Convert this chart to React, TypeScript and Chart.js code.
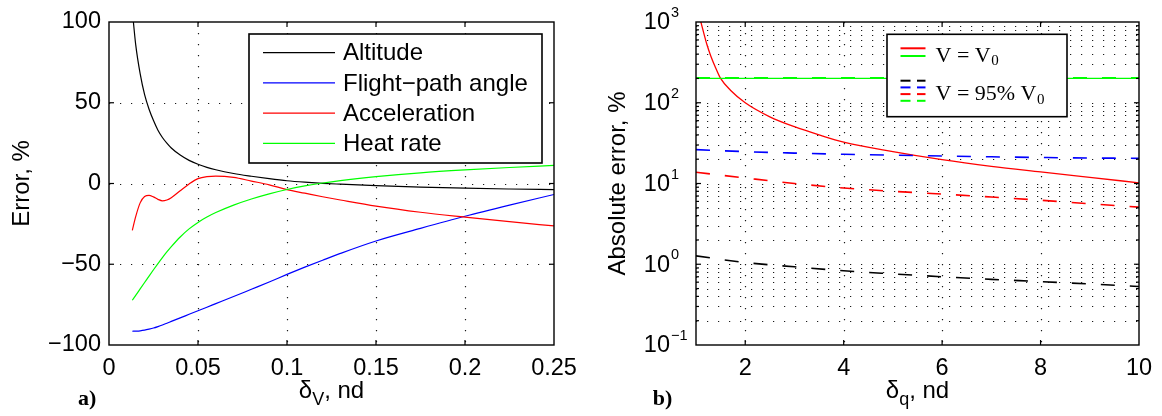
import React, { useEffect, useRef } from "react";
import { Chart, registerables } from "chart.js";

Chart.register(...registerables);

const SANS = '"Liberation Sans", Arial, Helvetica, sans-serif';
const SERIF = '"Liberation Serif", "Times New Roman", serif';

// ---------------- Panel a) data ----------------
const deltaV = [0.0131, 0.015, 0.0175, 0.02, 0.0225, 0.025, 0.0275, 0.03, 0.0325, 0.035, 0.04, 0.045, 0.05, 0.055, 0.06, 0.07, 0.08, 0.09, 0.1, 0.11, 0.12, 0.13, 0.15, 0.175, 0.2, 0.225, 0.25];
const altitudeErr = [107, 86, 68, 55, 46, 39, 33, 28.5, 25, 22, 17.6, 14.3, 11.9, 10.0, 8.5, 6.2, 4.5, 3.0, 1.7, 0.8, 0.1, -0.4, -1.3, -2.2, -2.9, -3.4, -3.8];
const flightPathErr = [-91.5, -91.4, -91.2, -90.8, -90.2, -89.5, -88.6, -87.6, -86.5, -85.4, -83.2, -81, -78.8, -76.6, -74.4, -70, -65.5, -61, -56.3, -51.8, -47.5, -43.3, -35.6, -27.8, -20.3, -13.4, -6.8];
const accelErr = [-29, -20.5, -12, -8, -7.3, -8.3, -9.8, -10.7, -10.2, -8.8, -4.5, -0.3, 3.0, 4.3, 4.6, 3.8, 1.5, -0.8, -3.8, -6, -8.2, -10.2, -14, -17.8, -20.8, -23.6, -26.3];
const heatRateErr = [-72.3, -69.3, -65.3, -61.3, -57.3, -53.4, -49.6, -45.9, -42.4, -39.1, -33.1, -28.1, -24.1, -20.8, -18.0, -13.4, -9.6, -6.4, -3.7, -1.5, 0.3, 1.8, 4.2, 6.6, 8.4, 9.9, 11.2];

const seriesNamesA = ["Altitude", "Flight\u2212path angle", "Acceleration", "Heat rate"];
const xTicksA = [0, 0.05, 0.1, 0.15, 0.2, 0.25];
const xTickLabelsA = ["0", "0.05", "0.1", "0.15", "0.2", "0.25"];
const yTicksA = [-100, -50, 0, 50, 100];
const yTickLabelsA = ["\u2212100", "\u221250", "0", "50", "100"];

// ---------------- Panel b) data ----------------
const deltaQSolid = [1.09, 1.15, 1.22, 1.3, 1.4, 1.5, 1.7, 2, 2.5, 3, 3.5, 4, 5, 6, 7, 8, 9, 10];
const accelNominal = [1050, 760, 530, 380, 270, 200, 143, 100, 67, 50.5, 40, 32.5, 24.8, 19.7, 16.3, 13.9, 11.9, 10.2];
const deltaQ = [1, 2, 3, 4, 5, 6, 7, 8, 9, 10];
const heatNominal = [200, 200, 200, 200, 200, 200, 200, 200, 200, 200];
const altitude95 = [1.27, 1.05, 0.93, 0.83, 0.76, 0.7, 0.65, 0.61, 0.57, 0.53];
const flightPath95 = [26.3, 24.8, 23.8, 23.0, 22.4, 21.9, 21.4, 21.0, 20.7, 20.5];
const accel95 = [13.8, 11.7, 10.0, 8.8, 8.0, 7.4, 6.8, 6.2, 5.6, 5.1];
const heat95 = [203, 203, 203, 203, 203, 203, 203, 203, 203, 203];

const xTicksB = [2, 4, 6, 8, 10];
const xTickLabelsB = ["2", "4", "6", "8", "10"];
const yMajorB = [0.1, 1, 10, 100, 1000];
const yExpLabelsB = ["\u22121", "0", "1", "2", "3"];

const BLACK = "#000000";
const BLUE = "#0000ff";
const RED = "#ff0000";
const GREEN = "#00ff00";

const pts = (xs: number[], ys: number[]) => xs.map((x, i) => ({ x, y: ys[i] }));

function line(ctx: CanvasRenderingContext2D, x1: number, y1: number, x2: number, y2: number) {
  ctx.beginPath();
  ctx.moveTo(x1, y1);
  ctx.lineTo(x2, y2);
  ctx.stroke();
}

function drawSubText(
  ctx: CanvasRenderingContext2D,
  cx: number,
  baseline: number,
  main: string,
  sub: string,
  rest: string,
  size: number,
  subSize: number,
  drop: number,
) {
  ctx.font = `${size}px ${SANS}`;
  const w1 = ctx.measureText(main).width;
  const w3 = ctx.measureText(rest).width;
  ctx.font = `${subSize}px ${SANS}`;
  const w2 = ctx.measureText(sub).width;
  let x = cx - (w1 + w2 + w3) / 2;
  ctx.textAlign = "left";
  ctx.textBaseline = "alphabetic";
  ctx.fillStyle = "#000";
  ctx.font = `${size}px ${SANS}`;
  ctx.fillText(main, x, baseline);
  x += w1;
  ctx.font = `${subSize}px ${SANS}`;
  ctx.fillText(sub, x, baseline + drop);
  x += w2;
  ctx.font = `${size}px ${SANS}`;
  ctx.fillText(rest, x, baseline);
}

function dottedGrid(ctx: CanvasRenderingContext2D) {
  ctx.strokeStyle = "#1a1a1a";
  ctx.lineWidth = 1.2;
  ctx.setLineDash([1.2, 9.8]);
}

function drawBoxAndTicks(
  ctx: CanvasRenderingContext2D,
  ca: any,
  xs: number[],
  ys: number[],
  yMinor: number[],
) {
  ctx.save();
  ctx.setLineDash([]);
  ctx.strokeStyle = "#000";
  ctx.lineWidth = 1.2;
  for (const px of xs) {
    line(ctx, px, ca.bottom, px, ca.bottom - 5);
    line(ctx, px, ca.top, px, ca.top + 5);
  }
  for (const py of ys) {
    line(ctx, ca.left, py, ca.left + 5, py);
    line(ctx, ca.right, py, ca.right - 5, py);
  }
  for (const py of yMinor) {
    line(ctx, ca.left, py, ca.left + 3, py);
    line(ctx, ca.right, py, ca.right - 3, py);
  }
  ctx.lineWidth = 1.4;
  ctx.strokeRect(ca.left, ca.top, ca.right - ca.left, ca.bottom - ca.top);
  ctx.restore();
}

const panelAPlugin = {
  id: "panelA",
  beforeDatasetsDraw(chart: any) {
    const { ctx, chartArea: ca, scales } = chart;
    const { x, y } = scales;
    ctx.save();
    dottedGrid(ctx);
    for (const v of xTicksA.slice(1, -1)) {
      const px = Math.round(x.getPixelForValue(v)) + 0.5;
      line(ctx, px, ca.top, px, ca.bottom);
    }
    for (const v of yTicksA.slice(1, -1)) {
      const py = Math.round(y.getPixelForValue(v)) + 0.5;
      line(ctx, ca.left, py, ca.right, py);
    }
    ctx.restore();
  },
  afterDatasetsDraw(chart: any) {
    const { ctx, chartArea: ca, scales } = chart;
    const { x, y } = scales;
    drawBoxAndTicks(
      ctx,
      ca,
      xTicksA.slice(1, -1).map((v) => x.getPixelForValue(v)),
      yTicksA.slice(1, -1).map((v) => y.getPixelForValue(v)),
      [],
    );
    // legend
    const lx = ca.right - 305;
    const ly = ca.top + 12;
    const lw = 293;
    const lh = 129;
    ctx.save();
    ctx.fillStyle = "#fff";
    ctx.fillRect(lx, ly, lw, lh);
    ctx.strokeStyle = "#000";
    ctx.lineWidth = 1.6;
    ctx.strokeRect(lx, ly, lw, lh);
    const colors = [BLACK, BLUE, RED, GREEN];
    ctx.font = `24px ${SANS}`;
    ctx.textAlign = "left";
    ctx.textBaseline = "middle";
    seriesNamesA.forEach((name, i) => {
      const ry = ly + 18.7 + i * 30.2;
      ctx.strokeStyle = colors[i];
      ctx.lineWidth = 1.3;
      line(ctx, lx + 14, ry, lx + 86, ry);
      ctx.fillStyle = "#000";
      ctx.fillText(name, lx + 94, ry + 1);
    });
    ctx.restore();
  },
  afterDraw(chart: any) {
    const { ctx, chartArea: ca } = chart;
    ctx.save();
    ctx.fillStyle = "#000";
    ctx.font = `24px ${SANS}`;
    ctx.textAlign = "center";
    ctx.textBaseline = "middle";
    ctx.translate(22, (ca.top + ca.bottom) / 2);
    ctx.rotate(-Math.PI / 2);
    ctx.fillText("Error, %", 0, 0);
    ctx.restore();
    ctx.save();
    drawSubText(ctx, (ca.left + ca.right) / 2, 398, "\u03b4", "V", ", nd", 24, 18, 7);
    ctx.font = `bold 22px ${SERIF}`;
    ctx.textAlign = "left";
    ctx.textBaseline = "alphabetic";
    ctx.fillText("a)", 78, 405);
    ctx.restore();
  },
};

const panelBPlugin = {
  id: "panelB",
  beforeDatasetsDraw(chart: any) {
    const { ctx, chartArea: ca, scales } = chart;
    const { x, y } = scales;
    ctx.save();
    dottedGrid(ctx);
    for (const v of xTicksB.slice(0, -1)) {
      const px = Math.round(x.getPixelForValue(v)) + 0.5;
      line(ctx, px, ca.top, px, ca.bottom);
    }
    for (let d = 0; d < yMajorB.length - 1; d++) {
      for (let m = 1; m <= 9; m++) {
        if (d === 0 && m === 1) continue;
        const py = Math.round(y.getPixelForValue(yMajorB[d] * m)) + 0.5;
        line(ctx, ca.left, py, ca.right, py);
      }
    }
    ctx.restore();
  },
  afterDatasetsDraw(chart: any) {
    const { ctx, chartArea: ca, scales } = chart;
    const { x, y } = scales;
    const minors: number[] = [];
    for (let d = 0; d < yMajorB.length - 1; d++) {
      for (let m = 2; m <= 9; m++) minors.push(y.getPixelForValue(yMajorB[d] * m));
    }
    drawBoxAndTicks(
      ctx,
      ca,
      xTicksB.slice(0, -1).map((v) => x.getPixelForValue(v)),
      yMajorB.slice(1, -1).map((v) => y.getPixelForValue(v)),
      minors,
    );
    // legend
    const lx = ca.left + 191;
    const ly = ca.top + 12.3;
    const lw = 180;
    const lh = 82.4;
    ctx.save();
    ctx.fillStyle = "#fff";
    ctx.fillRect(lx, ly, lw, lh);
    ctx.strokeStyle = "#000";
    ctx.lineWidth = 1.6;
    ctx.strokeRect(lx, ly, lw, lh);
    const sx0 = lx + 13.5;
    const sx1 = lx + 38.5;
    ctx.lineWidth = 2;
    ctx.strokeStyle = RED;
    line(ctx, sx0, ly + 14, sx1, ly + 14);
    ctx.strokeStyle = GREEN;
    line(ctx, sx0, ly + 21.7, sx1, ly + 21.7);
    const dashCols = [BLACK, BLUE, RED, GREEN];
    dashCols.forEach((c, i) => {
      const yy = ly + 46.4 + i * 6.7;
      ctx.strokeStyle = c;
      line(ctx, sx0, yy, sx0 + 10, yy);
      line(ctx, sx0 + 16.5, yy, sx1, yy);
    });
    ctx.fillStyle = "#000";
    ctx.textAlign = "left";
    ctx.textBaseline = "alphabetic";
    const tx = lx + 48.5;
    const drawV = (main: string, base: number) => {
      ctx.font = `22px ${SERIF}`;
      ctx.fillText(main, tx, base);
      const w = ctx.measureText(main).width;
      ctx.font = `15px ${SERIF}`;
      ctx.fillText("0", tx + w + 0.5, base + 3.5);
    };
    drawV("V = V", ly + 27.4);
    drawV("V = 95% V", ly + 65.7);
    ctx.restore();
  },
  afterDraw(chart: any) {
    const { ctx, chartArea: ca, scales } = chart;
    const { y } = scales;
    ctx.save();
    ctx.fillStyle = "#000";
    // y tick labels with superscript exponents
    yMajorB.forEach((v, i) => {
      const py = y.getPixelForValue(v);
      ctx.font = `23.5px ${SANS}`;
      ctx.textAlign = "right";
      ctx.textBaseline = "middle";
      ctx.fillText("10", ca.left - 26, py + 1);
      ctx.font = `14.5px ${SANS}`;
      ctx.textAlign = "left";
      ctx.textBaseline = "alphabetic";
      ctx.fillText(yExpLabelsB[i], ca.left - 25, py - 5);
    });
    ctx.restore();
    ctx.save();
    ctx.fillStyle = "#000";
    ctx.font = `24px ${SANS}`;
    ctx.textAlign = "center";
    ctx.textBaseline = "middle";
    ctx.translate(38, (ca.top + ca.bottom) / 2);
    ctx.rotate(-Math.PI / 2);
    ctx.fillText("Absolute error, %", 0, 0);
    ctx.restore();
    ctx.save();
    drawSubText(ctx, (ca.left + ca.right) / 2, 398, "\u03b4", "q", ", nd", 24, 18, 7);
    ctx.fillStyle = "#000";
    ctx.font = `bold 22px ${SERIF}`;
    ctx.textAlign = "left";
    ctx.textBaseline = "alphabetic";
    ctx.fillText("b)", 72.7, 405);
    ctx.restore();
  },
};

const noSidePadding = (s: any) => {
  s.height = 71;
  s.paddingLeft = 0;
  s.paddingRight = 0;
};

function configA(): any {
  const ds = (label: string, ys: number[], color: string) => ({
    label,
    data: pts(deltaV, ys),
    borderColor: color,
    backgroundColor: color,
    borderWidth: 1.2,
    pointRadius: 0,
    fill: false,
    cubicInterpolationMode: "monotone",
  });
  return {
    type: "line",
    data: {
      datasets: [
        ds(seriesNamesA[3], heatRateErr, GREEN),
        ds(seriesNamesA[2], accelErr, RED),
        ds(seriesNamesA[1], flightPathErr, BLUE),
        ds(seriesNamesA[0], altitudeErr, BLACK),
      ],
    },
    options: {
      responsive: false,
      animation: false,
      events: [],
      layout: { padding: { top: 22, right: 26, left: 0, bottom: 0 } },
      plugins: { legend: { display: false }, tooltip: { enabled: false } },
      scales: {
        x: {
          type: "linear",
          min: 0,
          max: 0.25,
          grid: { display: false, drawTicks: false },
          border: { display: false },
          afterBuildTicks: (s: any) => {
            s.ticks = xTicksA.map((v) => ({ value: v }));
          },
          afterFit: noSidePadding,
          ticks: {
            autoSkip: false,
            maxRotation: 0,
            padding: 9,
            color: "#000",
            font: { family: SANS, size: 23.5 },
            callback: (_v: any, i: number) => xTickLabelsA[i],
          },
        },
        y: {
          type: "linear",
          min: -100,
          max: 100,
          grid: { display: false, drawTicks: false },
          border: { display: false },
          afterBuildTicks: (s: any) => {
            s.ticks = yTicksA.map((v) => ({ value: v }));
          },
          afterFit: (s: any) => {
            s.width = 109;
            s.paddingTop = 0;
            s.paddingBottom = 0;
          },
          ticks: {
            autoSkip: false,
            padding: 8,
            color: "#000",
            font: { family: SANS, size: 23.5 },
            callback: (_v: any, i: number) => yTickLabelsA[i],
          },
        },
      },
    },
    plugins: [panelAPlugin],
  };
}

function configB(): any {
  const ds = (label: string, xs: number[], ys: number[], color: string, dashed: boolean) => ({
    label,
    data: pts(xs, ys),
    borderColor: color,
    backgroundColor: color,
    borderWidth: dashed ? 1.6 : 1.3,
    borderDash: dashed ? [14, 15] : [],
    pointRadius: 0,
    fill: false,
    cubicInterpolationMode: "monotone",
  });
  return {
    type: "line",
    data: {
      datasets: [
        ds("Heat rate, V = V0", deltaQ, heatNominal, GREEN, false),
        ds("Heat rate, V = 95% V0", deltaQ, heat95, GREEN, true),
        ds("Altitude, V = 95% V0", deltaQ, altitude95, BLACK, true),
        ds("Flight-path angle, V = 95% V0", deltaQ, flightPath95, BLUE, true),
        ds("Acceleration, V = 95% V0", deltaQ, accel95, RED, true),
        ds("Acceleration, V = V0", deltaQSolid, accelNominal, RED, false),
      ],
    },
    options: {
      responsive: false,
      animation: false,
      events: [],
      layout: { padding: { top: 22, right: 23, left: 0, bottom: 0 } },
      plugins: { legend: { display: false }, tooltip: { enabled: false } },
      scales: {
        x: {
          type: "linear",
          min: 1,
          max: 10,
          grid: { display: false, drawTicks: false },
          border: { display: false },
          afterBuildTicks: (s: any) => {
            s.ticks = xTicksB.map((v) => ({ value: v }));
          },
          afterFit: noSidePadding,
          ticks: {
            autoSkip: false,
            maxRotation: 0,
            padding: 9,
            color: "#000",
            font: { family: SANS, size: 23.5 },
            callback: (_v: any, i: number) => xTickLabelsB[i],
          },
        },
        y: {
          type: "logarithmic",
          min: 0.1,
          max: 1000,
          grid: { display: false, drawTicks: false },
          border: { display: false },
          afterBuildTicks: (s: any) => {
            s.ticks = yMajorB.map((v) => ({ value: v }));
          },
          afterFit: (s: any) => {
            s.width = 116;
            s.paddingTop = 0;
            s.paddingBottom = 0;
          },
          ticks: { display: false },
        },
      },
    },
    plugins: [panelBPlugin],
  };
}

export default function App() {
  const refA = useRef<HTMLCanvasElement>(null);
  const refB = useRef<HTMLCanvasElement>(null);
  useEffect(() => {
    const a = new Chart(refA.current as HTMLCanvasElement, configA());
    const b = new Chart(refB.current as HTMLCanvasElement, configB());
    return () => {
      a.destroy();
      b.destroy();
    };
  }, []);
  return (
    <div
      style={{
        position: "absolute",
        left: 0,
        top: 0,
        width: 1162,
        height: 416,
        background: "#fff",
        overflow: "hidden",
      }}
    >
      <canvas ref={refA} width={580} height={416} style={{ position: "absolute", left: 0, top: 0, width: 580, height: 416 }} />
      <canvas ref={refB} width={582} height={416} style={{ position: "absolute", left: 580, top: 0, width: 582, height: 416 }} />
    </div>
  );
}
